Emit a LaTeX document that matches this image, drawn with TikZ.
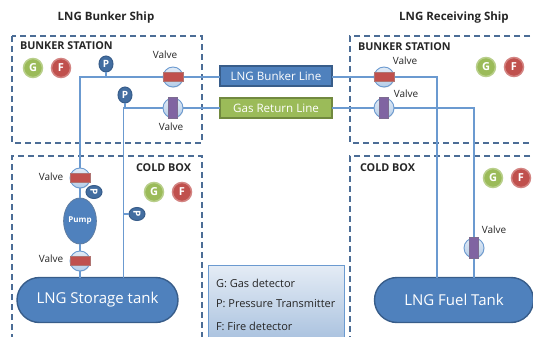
\documentclass[tikz,border=0pt]{standalone}
\usepackage{fontspec}
\setmainfont{Open Sans}
\usetikzlibrary{shapes.misc,shapes.geometric,shadows}
\definecolor{bluef}{HTML}{4F81BD}
\definecolor{blued}{HTML}{385D8A}
\definecolor{greenf}{HTML}{9BBB59}
\definecolor{greend}{HTML}{71893F}
\definecolor{redf}{HTML}{C0504D}
\definecolor{redd}{HTML}{8C3836}
\definecolor{purf}{HTML}{8064A2}
\definecolor{purd}{HTML}{5C4776}
\definecolor{pipe}{HTML}{6B9AD0}
\definecolor{txt}{HTML}{262626}
\tikzset{
  every node/.style={inner sep=0pt,outer sep=0pt,text=txt},
  zone/.style={draw=blued!90,line width=1.4pt,dash pattern=on 6pt off 4pt},
  pipeline/.style={draw=pipe,line width=1.1pt},
  title/.style={font=\fontsize{11.5}{12}\selectfont\bfseries},
  zonelabel/.style={font=\fontsize{10.8}{12}\selectfont\bfseries,anchor=west},
  small/.style={font=\fontsize{10}{12}\selectfont},
  valvebase/.style={circle,minimum size=20pt,draw=pipe,line width=.9pt,top color=white!80!pipe,bottom color=pipe!50,drop shadow={opacity=.25,shadow xshift=.5pt,shadow yshift=-.8pt}},
  redbar/.style={rectangle,minimum width=20pt,minimum height=9pt,fill=redf,draw=redd!70,line width=1pt},
  purbar/.style={rectangle,minimum width=9pt,minimum height=21pt,fill=purf,draw=purd!80,line width=1pt},
  linebox/.style={rectangle,minimum width=112pt,minimum height=20pt,line width=1.4pt,font=\fontsize{11.6}{12}\selectfont,text=white},
  det/.style={circle,minimum size=19pt,line width=1.5pt,font=\fontsize{11}{12}\selectfont\bfseries,text=white},
  gdet/.style={det,fill=greenf,draw=greenf!70!white},
  fdet/.style={det,fill=redf,draw=redf!70!white},
  ptx/.style={ellipse,minimum width=14pt,minimum height=16pt,fill=bluef!85!black,draw=blued,line width=1pt,font=\fontsize{10}{10}\selectfont\bfseries,text=white},
  ptxr/.style={ellipse,minimum width=16pt,minimum height=13pt,fill=bluef!85!black,draw=blued,line width=1pt},
  tank/.style={rounded rectangle,minimum height=45pt,fill=bluef,draw=blued,line width=1.4pt,font=\fontsize{15}{16}\selectfont,text=white},
}
\begin{document}
\begin{tikzpicture}[x=1pt,y=-1pt]
\useasboundingbox (0,0) rectangle (533,337);
\clip (0,0) rectangle (533,337);
% zones
\draw[zone] (12,36) rectangle (202,143);
\draw[zone] (12,400) -- (12,156) -- (202,156) -- (202,400);
\draw[zone] (560,36) -- (350,36) -- (350,143) -- (560,143);
\draw[zone] (560,156) -- (350,156) -- (350,400);
% titles
\node[title] (t1) at (106,18) {LNG Bunker Ship};
\node[title] (t2) at (454,18) {LNG Receiving Ship};
\node[zonelabel] (z1) at (20,46) {BUNKER STATION};
\node[zonelabel] (z2) at (136,168) {COLD BOX};
\node[zonelabel] (z3) at (358,47) {BUNKER STATION};
\node[zonelabel] (z4) at (360,168) {COLD BOX};
% boxes
\node[linebox,fill=bluef,draw=blued] (lng) at (276,76) {LNG Bunker Line};
\node[linebox,fill=greenf,draw=greend] (gas) at (276,108) {Gas Return Line};
% tanks
\node[tank,minimum width=161pt] (st) at (97.5,300) {LNG Storage tank};
\node[tank,minimum width=159pt] (ft) at (454,300) {LNG Fuel Tank};
% anchor coordinates
\coordinate (c1) at (80,77);
\coordinate (c2) at (123.5,108);
\coordinate (c3) at (437,77);
\coordinate (c4) at (474,108);
\coordinate (s1) at (106,77);
\coordinate (s2) at (125,108);
\coordinate (s3) at (123.5,214);
\coordinate (st1) at (80,278);
\coordinate (st2) at (123.5,278);
\coordinate (ft1) at (437,278);
\coordinate (ft2) at (474,278);
\coordinate (lngw) at (220,77);
\coordinate (gasw) at (220,108);
\coordinate (lnge) at (332,77);
\coordinate (gase) at (332,108);
% equipment
\node[valvebase] (v1) at (173,77) {};
\node[valvebase] (v2) at (173,108) {};
\node[valvebase] (v3) at (80,178) {};
\node[valvebase] (v4) at (80,261) {};
\node[valvebase] (v5) at (384,77) {};
\node[valvebase] (v6) at (384,108) {};
\node[valvebase] (v7) at (474,248) {};
\node[ellipse,minimum width=31pt,minimum height=46pt,fill=bluef,draw=blued!80,line width=.8pt,font=\fontsize{8}{9}\selectfont\bfseries,text=white] (pump) at (80,221) {Pump};
% pipes
\draw[pipeline] (lngw) -- (v1);
\draw[pipeline] (v1) -- (c1) -- (v3);
\draw[pipeline] (gasw) -- (v2);
\draw[pipeline] (v2) -- (c2) -- (st2);
\draw[pipeline] (v3) -- (pump);
\draw[pipeline] (pump) -- (v4);
\draw[pipeline] (v4) -- (st1);
\draw[pipeline] (lnge) -- (v5);
\draw[pipeline] (v5) -- (c3) -- (ft1);
\draw[pipeline] (gase) -- (v6);
\draw[pipeline] (v6) -- (c4) -- (v7);
\draw[pipeline] (v7) -- (ft2);
% bars
\node[redbar] (b1) at (v1) {};
\node[purbar] (b2) at (v2) {};
\node[redbar] (b3) at (v3) {};
\node[redbar] (b4) at (v4) {};
\node[redbar] (b5) at (v5) {};
\node[purbar] (b6) at (v6) {};
\node[purbar] (b7) at (v7) {};
% transmitters
\node[ptx] (p1) at (106,64) {P};
\node[ptx] (p2) at (125,95) {P};
\node[ptxr] (p3) at (94,192) {};
\node[ptxr] (p4) at (137,214) {};
\node[font=\fontsize{10}{10}\selectfont\bfseries,text=white,rotate=-90] (p3t) at (p3) {P};
\node[font=\fontsize{10}{10}\selectfont\bfseries,text=white,rotate=-90] (p4t) at (p4) {P};
\draw[pipeline] (p1) -- (s1);
\draw[pipeline] (p2) -- (s2);
\draw[pipeline] (s3) -- (p4);
% detectors
\node[gdet] (g1) at (33,68) {G};
\node[fdet] (f1) at (61,68) {F};
\node[gdet] (g2) at (154,192) {G};
\node[fdet] (f2) at (182,192) {F};
\node[gdet] (g3) at (486,67) {G};
\node[fdet] (f3) at (514,67) {F};
\node[gdet] (g4) at (493,178) {G};
\node[fdet] (f4) at (521,178) {F};
% valve labels
\node[small] (l1) at (165,55) {Valve};
\node[small] (l2) at (171,127) {Valve};
\node[small] (l3) at (51,177) {Valve};
\node[small] (l4) at (51,259) {Valve};
\node[small] (l5) at (405,61) {Valve};
\node[small] (l6) at (406,94) {Valve};
\node[small] (l7) at (494,230) {Valve};
% legend
\node[rectangle,anchor=north west,minimum width=136pt,minimum height=90pt,draw=pipe,line width=1pt,top color=bluef!15,bottom color=bluef!55] (leg) at (208,265) {};
\node[anchor=west,font=\fontsize{11}{12}\selectfont] (a1) at (216,283) {G: Gas detector};
\node[anchor=west,font=\fontsize{11}{12}\selectfont] (a2) at (216,304) {P: Pressure Transmitter};
\node[anchor=west,font=\fontsize{11}{12}\selectfont] (a3) at (216,326) {F: Fire detector};
\end{tikzpicture}
\end{document}
